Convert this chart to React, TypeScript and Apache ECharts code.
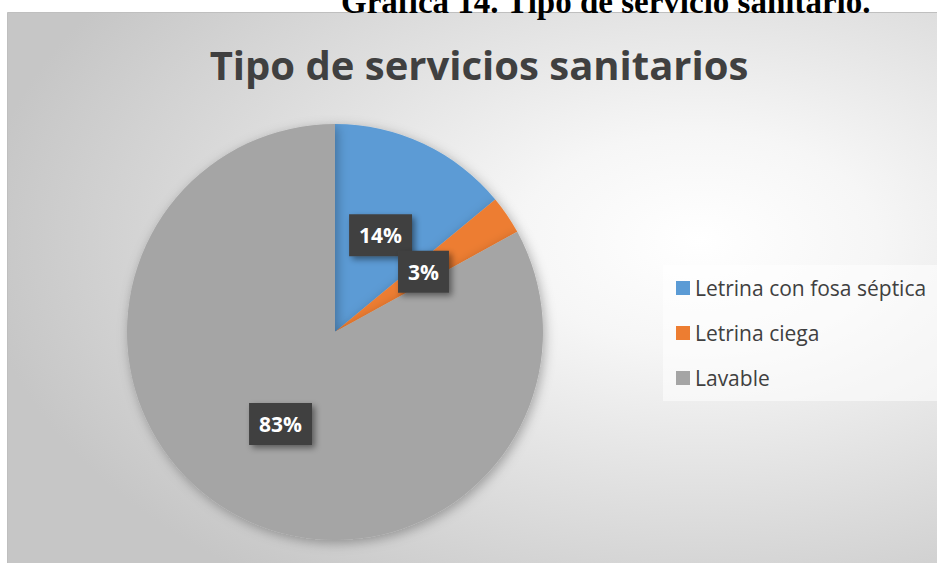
import React, { useEffect, useRef } from "react";
import * as echarts from "echarts";

const categories = ["Letrina con fosa séptica", "Letrina ciega", "Lavable"];
const values = [14, 3, 83];
const colors = ["#5B9BD5", "#ED7D31", "#A5A5A5"];
const chartTitle = "Tipo de servicios sanitarios";
const header = "Gráfica 14. Tipo de servicio sanitario.";

export default function App() {
  const ref = useRef<HTMLDivElement>(null);
  useEffect(() => {
    const chart = echarts.init(ref.current!, undefined, { renderer: "svg" });
    chart.setOption({
      animation: false,
      graphic: [
        {
          type: "rect",
          z: -10,
          shape: { x: 7.5, y: 12.5, width: 960, height: 570 },
          style: {
            fill: new echarts.graphic.RadialGradient(0.72, 0.4, 0.75, [
              { offset: 0, color: "#ffffff" },
              { offset: 0.25, color: "#f6f6f6" },
              { offset: 1, color: "#c6c6c6" },
            ]),
            stroke: "#bfbfbf",
            lineWidth: 1,
          },
        },
        {
          type: "text",
          z: 10,
          x: 341,
          y: 18,
          style: {
            text: header,
            font: "bold 33px 'Liberation Serif'",
            fill: "#000000",
            verticalAlign: "bottom",
          },
        },
        {
          type: "text",
          z: 10,
          x: 479,
          y: 64,
          style: {
            text: chartTitle,
            font: "bold 40px 'Open Sans'",
            fill: "#404040",
            align: "center",
            verticalAlign: "middle",
          },
        },
      ],
      legend: {
        orient: "vertical",
        left: 663,
        top: 265,
        width: 300,
        backgroundColor: "rgba(255,255,255,0.55)",
        padding: [12, 60, 12, 13],
        itemWidth: 14,
        itemHeight: 14,
        itemGap: 23,
        icon: "rect",
        textStyle: {
          fontFamily: "Open Sans",
          fontSize: 21,
          color: "#404040",
          lineHeight: 22,
        },
        data: categories,
      },
      series: [
        {
          type: "pie",
          center: [335, 332],
          radius: [0, 208],
          startAngle: 90,
          clockwise: true,
          avoidLabelOverlap: false,
          labelLayout: { hideOverlap: false },
          data: categories.map((c, i) => ({
            name: c,
            value: values[i],
            itemStyle: { color: colors[i] },
          })),
          itemStyle: {
            shadowBlur: 12,
            shadowColor: "rgba(0,0,0,0.3)",
            shadowOffsetX: 2,
            shadowOffsetY: 3,
          },
          label: {
            show: true,
            position: "inside",
            formatter: (p: any) => p.value + "%",
            backgroundColor: "#404040",
            color: "#ffffff",
            fontFamily: "Open Sans",
            fontWeight: "bold",
            fontSize: 21,
            padding: [11, 10, 10, 10],
            shadowBlur: 6,
            shadowColor: "rgba(0,0,0,0.45)",
            shadowOffsetX: 3,
            shadowOffsetY: 3,
          },
          labelLine: { show: false },
          emphasis: { disabled: true },
        },
      ],
    });
    return () => chart.dispose();
  }, []);
  return (
    <div
      ref={ref}
      style={{ position: "fixed", left: 0, top: 0, width: 937, height: 563, background: "#ffffff" }}
    />
  );
}
